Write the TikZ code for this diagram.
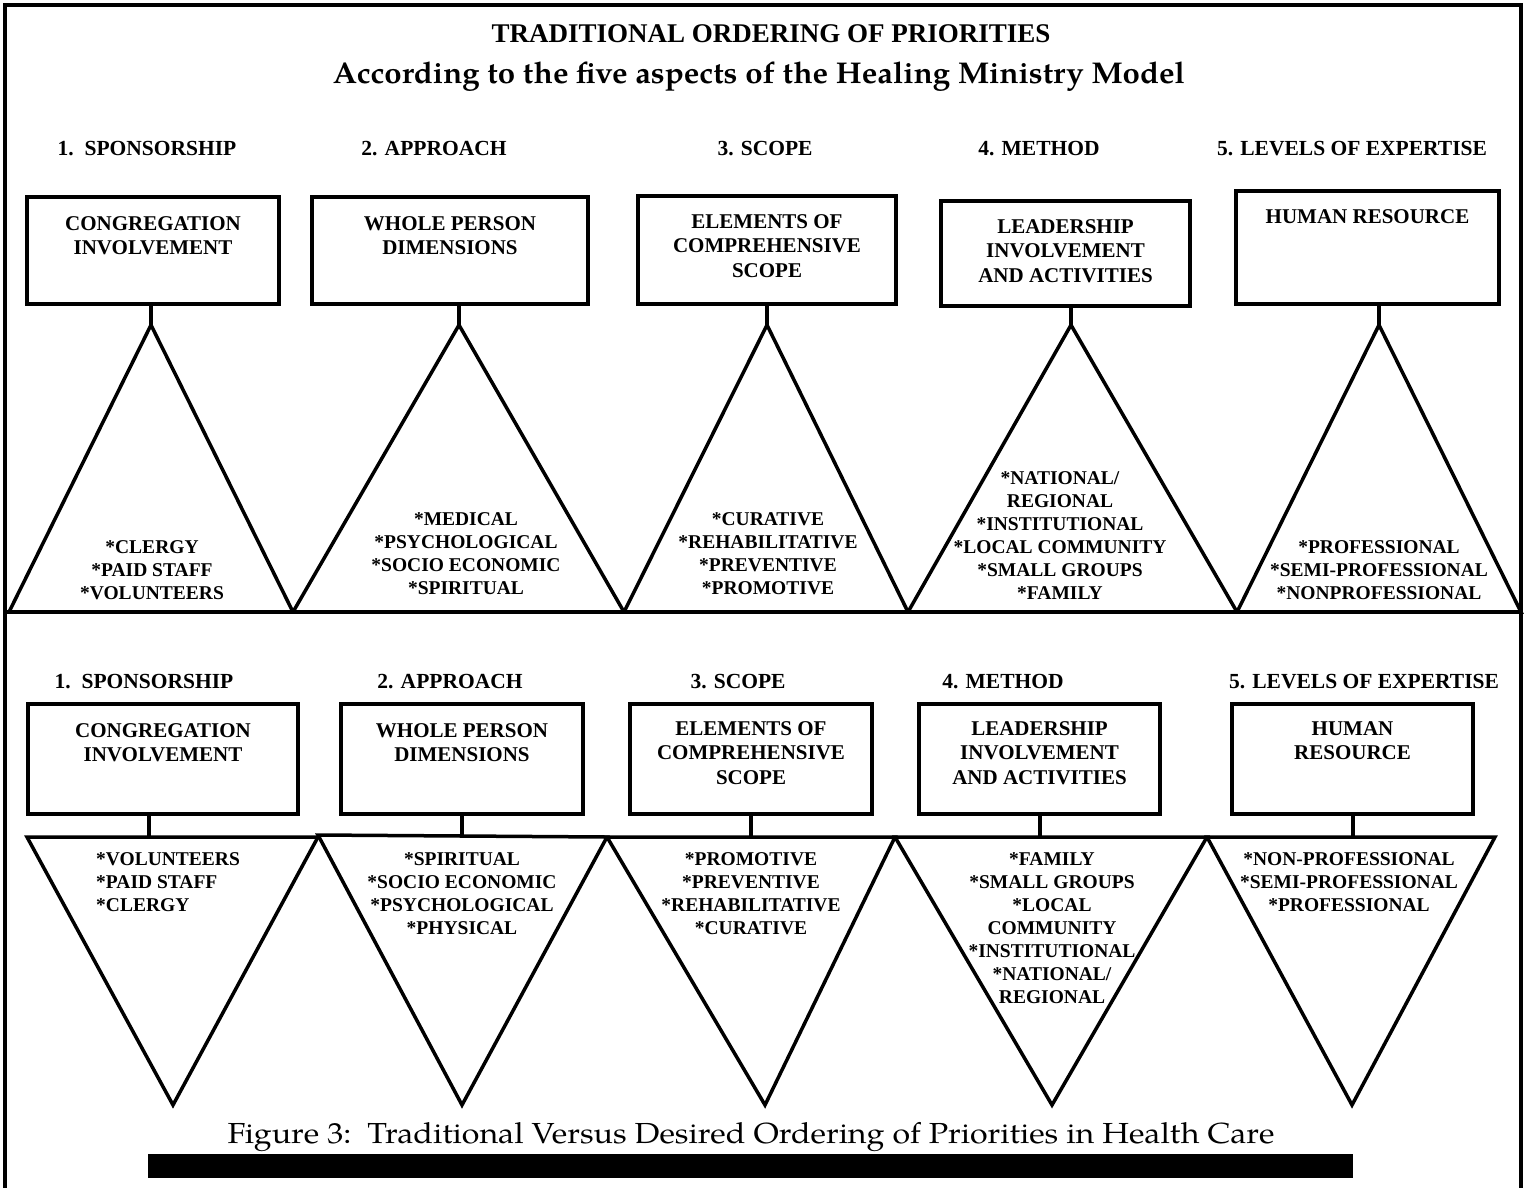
\documentclass[tikz,border=0pt]{standalone}
\usepackage{graphicx}
\usepackage{fontspec}
\setmainfont{Liberation Serif}
\newfontfamily\palfont{TeX Gyre Pagella}
\usetikzlibrary{calc}
\begin{document}
\begin{tikzpicture}[x=1pt,y=-1pt,
  frameline/.style={line width=4pt},
  box/.style={draw, line width=3.5pt, inner sep=0pt, outer sep=0pt},
  tri/.style={draw, line width=3.5pt, line join=miter},
  stem/.style={line width=3.5pt},
  head/.style={font=\fontsize{21.5}{26}\selectfont\bfseries, anchor=base, inner sep=0pt},
  boxtext/.style={font=\fontsize{21}{24.5}\selectfont\bfseries, align=center, anchor=north, inner sep=0pt},
  item/.style={font=\fontsize{19.5}{23}\selectfont\bfseries, align=center, inner sep=0pt},
]
\path[use as bounding box, fill=white] (0,0) rectangle (1530,1187);

% outer frame and divider
\draw[frameline] (5,1190) -- (5,5) -- (1521,5) -- (1521,1190);
\draw[frameline] (5,612) -- (1521,612);

% titles
\node[font=\fontsize{27}{30}\selectfont\bfseries, anchor=base, inner sep=0pt] (title) at (771,42) {TRADITIONAL ORDERING OF PRIORITIES};
\node[font=\palfont\bfseries\fontsize{30}{34}\selectfont, anchor=base, inner sep=0pt] (subtitle) at (759,83)
  {\resizebox{852pt}{\height}{According to the five aspects of the Healing Ministry Model}};

% ---------- traditional ordering (upper row) ----------
\node[head] (h1) at (147,155) {1.\ \ SPONSORSHIP};
\node[head] (h2) at (434,155) {2. APPROACH};
\node[head] (h3) at (765,155) {3. SCOPE};
\node[head] (h4) at (1039,155) {4. METHOD};
\node[head] (h5) at (1352,155) {5. LEVELS OF EXPERTISE};

\node[box, minimum width=252, minimum height=107] (b1) at (153,250.5) {};
\node[box, minimum width=276, minimum height=107] (b2) at (450,250.5) {};
\node[box, minimum width=258, minimum height=108] (b3) at (767,250) {};
\node[box, minimum width=249, minimum height=105] (b4) at (1065.5,253.5) {};
\node[box, minimum width=263, minimum height=113] (b5) at (1367.5,247.5) {};

\node[boxtext] (b1t) at ($(b1.north)+(0,19)$) {CONGREGATION\\INVOLVEMENT};
\node[boxtext] (b2t) at ($(b2.north)+(0,19)$) {WHOLE PERSON\\DIMENSIONS};
\node[boxtext] (b3t) at ($(b3.north)+(0,18)$) {ELEMENTS OF\\COMPREHENSIVE\\SCOPE};
\node[boxtext] (b4t) at ($(b4.north)+(0,18)$) {LEADERSHIP\\INVOLVEMENT\\AND ACTIVITIES};
\node[boxtext] (b5t) at ($(b5.north)+(0,18)$) {HUMAN RESOURCE};

\coordinate (v0) at (9,612);
\coordinate (v1) at (293,612);
\coordinate (v2) at (624,612);
\coordinate (v3) at (908,612);
\coordinate (v4) at (1237,612);
\coordinate (v5) at (1521,612);
\coordinate (a1) at (151,325);
\coordinate (a2) at (459,325);
\coordinate (a3) at (767,325);
\coordinate (a4) at (1071,325);
\coordinate (a5) at (1379,325);

\draw[tri] (v0) -- (a1) -- (v1) -- cycle;
\draw[tri] (v1) -- (a2) -- (v2) -- cycle;
\draw[tri] (v2) -- (a3) -- (v3) -- cycle;
\draw[tri] (v3) -- (a4) -- (v4) -- cycle;
\draw[tri] (v4) -- (a5) -- (v5) -- cycle;

\draw[stem] (b1.south -| a1) -- (a1);
\draw[stem] (b2.south -| a2) -- (a2);
\draw[stem] (b3.south -| a3) -- (a3);
\draw[stem] (b4.south -| a4) -- (a4);
\draw[stem] (b5.south -| a5) -- (a5);

\node[item, anchor=south] (t1) at (152,600) {*CLERGY\\*PAID STAFF\\*VOLUNTEERS};
\node[item, anchor=south] (t2) at (466,595) {*MEDICAL\\*PSYCHOLOGICAL\\*SOCIO ECONOMIC\\*SPIRITUAL};
\node[item, anchor=south] (t3) at (768,595) {*CURATIVE\\*REHABILITATIVE\\*PREVENTIVE\\*PROMOTIVE};
\node[item, anchor=south] (t4) at (1060,600) {*NATIONAL/\\REGIONAL\\*INSTITUTIONAL\\*LOCAL COMMUNITY\\*SMALL GROUPS\\*FAMILY};
\node[item, anchor=south] (t5) at (1379,600) {*PROFESSIONAL\\*SEMI-PROFESSIONAL\\*NONPROFESSIONAL};

% ---------- desired ordering (lower row) ----------
\node[head] (k1) at (144,688) {1.\ \ SPONSORSHIP};
\node[head] (k2) at (450,688) {2. APPROACH};
\node[head] (k3) at (738,688) {3. SCOPE};
\node[head] (k4) at (1003,688) {4. METHOD};
\node[head] (k5) at (1364,688) {5. LEVELS OF EXPERTISE};

\node[box, minimum width=270, minimum height=110] (c1) at (163,759) {};
\node[box, minimum width=242, minimum height=110] (c2) at (462,759) {};
\node[box, minimum width=242, minimum height=110] (c3) at (751,759) {};
\node[box, minimum width=241, minimum height=110] (c4) at (1039.5,759) {};
\node[box, minimum width=241, minimum height=110] (c5) at (1352.5,759) {};

\node[boxtext] (c1t) at ($(c1.north)+(0,19)$) {CONGREGATION\\INVOLVEMENT};
\node[boxtext] (c2t) at ($(c2.north)+(0,19)$) {WHOLE PERSON\\DIMENSIONS};
\node[boxtext] (c3t) at ($(c3.north)+(0,17)$) {ELEMENTS OF\\COMPREHENSIVE\\SCOPE};
\node[boxtext] (c4t) at ($(c4.north)+(0,17)$) {LEADERSHIP\\INVOLVEMENT\\AND ACTIVITIES};
\node[boxtext] (c5t) at ($(c5.north)+(0,17)$) {HUMAN\\RESOURCE};

\coordinate (w0) at (27,837);
\coordinate (w1) at (318,837);
\coordinate (w1b) at (318,835);
\coordinate (w2) at (607,837);
\coordinate (w3) at (895,837);
\coordinate (w4) at (1207,837);
\coordinate (w5) at (1495,837);
\coordinate (d1) at (173,1105);
\coordinate (d2) at (462,1105);
\coordinate (d3) at (765,1105);
\coordinate (d4) at (1052,1105);
\coordinate (d5) at (1352,1105);
\coordinate (p1) at (149,837);
\coordinate (p2) at (462,837);
\coordinate (p3) at (751,837);
\coordinate (p4) at (1040,837);
\coordinate (p5) at (1353,837);

\draw[tri] (w0) -- (w1) -- (d1) -- cycle;
\draw[tri] (w1b) -- (w2) -- (d2) -- cycle;
\draw[tri] (w2) -- (w3) -- (d3) -- cycle;
\draw[tri] (w3) -- (w4) -- (d4) -- cycle;
\draw[tri] (w4) -- (w5) -- (d5) -- cycle;

\draw[stem] (c1.south -| p1) -- (p1);
\draw[stem] (c2.south -| p2) -- (p2);
\draw[stem] (c3.south -| p3) -- (p3);
\draw[stem] (c4.south -| p4) -- (p4);
\draw[stem] (c5.south -| p5) -- (p5);

\node[item, align=left, anchor=north west] (u1) at (96,852) {*VOLUNTEERS\\*PAID STAFF\\*CLERGY};
\node[item, anchor=north] (u2) at (462,852) {*SPIRITUAL\\*SOCIO ECONOMIC\\*PSYCHOLOGICAL\\*PHYSICAL};
\node[item, anchor=north] (u3) at (751,852) {*PROMOTIVE\\*PREVENTIVE\\*REHABILITATIVE\\*CURATIVE};
\node[item, anchor=north] (u4) at (1052,852) {*FAMILY\\*SMALL GROUPS\\*LOCAL\\COMMUNITY\\*INSTITUTIONAL\\*NATIONAL/\\REGIONAL};
\node[item, anchor=north] (u5) at (1349,852) {*NON-PROFESSIONAL\\*SEMI-PROFESSIONAL\\*PROFESSIONAL};

% caption and rule
\node[font=\palfont\fontsize{29}{34}\selectfont, anchor=base, inner sep=0pt] (caption) at (751,1143)
  {\resizebox{1047pt}{\height}{Figure 3:\ \ Traditional Versus Desired Ordering of Priorities in Health Care}};
\node[fill=black, inner sep=0pt, minimum width=1205, minimum height=24] (bar) at (750.5,1166) {};
\end{tikzpicture}
\end{document}
